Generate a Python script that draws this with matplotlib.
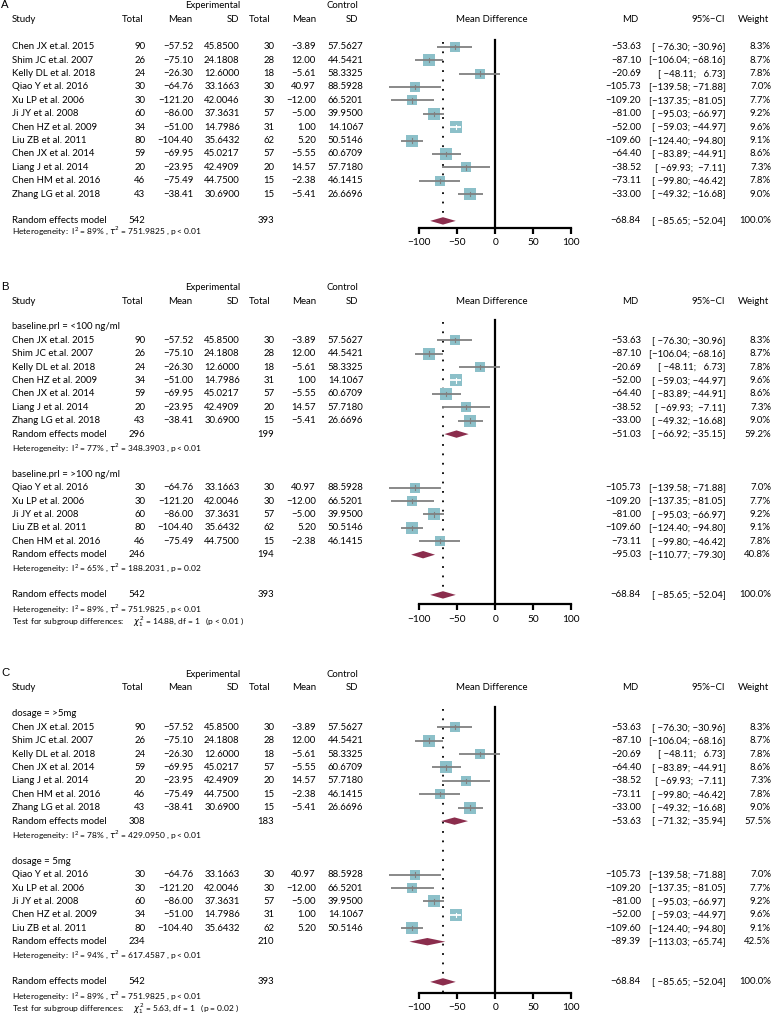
import matplotlib.pyplot as plt
from matplotlib.patches import Polygon

plt.rcParams['font.family'] = ['Lato', 'DejaVu Sans']
plt.rcParams['mathtext.fontset'] = 'dejavusans'

# study level data
studies = ["Chen JX et.al. 2015", "Shim JC et.al. 2007", "Kelly DL et al. 2018",
           "Qiao Y et al. 2016", "Xu LP et al. 2006", "Ji JY et al. 2008",
           "Chen HZ et al. 2009", "Liu ZB et al. 2011", "Chen JX et al. 2014",
           "Liang J et al. 2014", "Chen HM et al. 2016", "Zhang LG et al. 2018"]
exp_n = [90, 26, 24, 30, 30, 60, 34, 80, 59, 20, 46, 43]
exp_mean = [-57.52, -75.10, -26.30, -64.76, -121.20, -86.00, -51.00, -104.40, -69.95, -23.95, -75.49, -38.41]
exp_sd = [45.8500, 24.1808, 12.6000, 33.1663, 42.0046, 37.3631, 14.7986, 35.6432, 45.0217, 42.4909, 44.7500, 30.6900]
ctl_n = [30, 28, 18, 30, 30, 57, 31, 62, 57, 20, 15, 15]
ctl_mean = [-3.89, 12.00, -5.61, 40.97, -12.00, -5.00, 1.00, 5.20, -5.55, 14.57, -2.38, -5.41]
ctl_sd = [57.5627, 44.5421, 58.3325, 88.5928, 66.5201, 39.9500, 14.1067, 50.5146, 60.6709, 57.7180, 46.1415, 26.6696]
md = [-53.63, -87.10, -20.69, -105.73, -109.20, -81.00, -52.00, -109.60, -64.40, -38.52, -73.11, -33.00]
ci_lo = [-76.30, -106.04, -48.11, -139.58, -137.35, -95.03, -59.03, -124.40, -83.89, -69.93, -99.80, -49.32]
ci_hi = [-30.96, -68.16, 6.73, -71.88, -81.05, -66.97, -44.97, -94.80, -44.91, -7.11, -46.42, -16.68]
weight = [8.3, 8.7, 7.8, 7.0, 7.7, 9.2, 9.6, 9.1, 8.6, 7.3, 7.8, 9.0]

# pooled estimates: label -> (n exp, n ctl, MD, lo, hi, weight, I2, tau2, p)
pooled = {
    "all":    (542, 393, -68.84, -85.65, -52.04, 100.0, 89, 751.9825, "p < 0.01"),
    "prl_lo": (296, 199, -51.03, -66.92, -35.15, 59.2, 77, 348.3903, "p < 0.01"),
    "prl_hi": (246, 194, -95.03, -110.77, -79.30, 40.8, 65, 188.2031, "p = 0.02"),
    "dose_hi": (308, 183, -53.63, -71.32, -35.94, 57.5, 78, 429.0950, "p < 0.01"),
    "dose_5": (234, 210, -89.39, -113.03, -65.74, 42.5, 94, 617.4587, "p < 0.01"),
}
groups_B = [("baseline.prl = <100 ng/ml", [0, 1, 2, 6, 8, 9, 11], "prl_lo"),
            ("baseline.prl = >100 ng/ml", [3, 4, 5, 7, 10], "prl_hi")]
groups_C = [("dosage = >5mg", [0, 1, 2, 8, 9, 10, 11], "dose_hi"),
            ("dosage = 5mg", [3, 4, 5, 6, 7], "dose_5")]
test_B = ("14.88", "p < 0.01")
test_C = ("5.63", "p = 0.02")

W, H = 774, 1016
ROW = 13.4
FS = 6.9
FS_SMALL = 6.0
SQ_COL = "#8cc0c9"
DIA_COL = "#8b2d4d"
CI_COL = "#808080"
X0_PX, K = 495.3, 0.76  # pixel of MD=0, pixels per MD unit

fig = plt.figure(figsize=(W / 100, H / 100), dpi=100)
tx = fig.add_axes([0, 0, 1, 1])
tx.set_xlim(0, W)
tx.set_ylim(H, 0)
tx.axis('off')


def m(v):
    return f"{v:.2f}".replace("-", "\u2212")


def ci_str(lo, hi):
    a = m(lo).rjust(7)
    b = m(hi).rjust(6)
    return f"[{a}; {b}]"


def t(x, y, s, ha='right', fs=FS, **kw):
    tx.text(x, y, s, ha=ha, va='center', fontsize=fs, **kw)


def right_cols(y, d, lo, hi, w):
    t(641, y, m(d))
    t(725.7, y, ci_str(lo, hi))
    t(771, y, f"{w:.1f}%")


def het_text(key):
    _, _, _, _, _, _, i2, tau2, p = pooled[key]
    return (r"Heterogeneity:  $\mathregular{I^2}$ = " + f"{i2}% , " + r"$\tau^2$" +
            f" = {tau2:.4f} , {p}")


def draw_panel(letter, top, rows, axis_y):
    # headers
    tx.text(1, top, letter, ha='left', va='center', fontsize=8.2, family='Liberation Sans')
    t(240, top + 1, "Experimental")
    t(358.3, top + 1, "Control")
    hy = top + 14.5
    t(11.7, hy, "Study", ha='left')
    for x, s in [(143, "Total"), (192.7, "Mean"), (239.7, "SD"), (270, "Total"),
                 (316.7, "Mean"), (358.3, "SD"), (638.7, "MD"), (725, "95%\u2212CI"),
                 (769, "Weight")]:
        t(x, hy, s)
    t(491.3, hy, "Mean Difference", ha='center')

    y_first = rows[0][2]
    ax = fig.add_axes([380 / W, 1 - axis_y / H, (612 - 380) / W, (axis_y - y_first + 12) / H])
    ax.set_xlim((380 - X0_PX) / K, (612 - X0_PX) / K)
    ax.set_ylim(axis_y, y_first - 12)
    ax.patch.set_visible(False)
    for s in ['top', 'left', 'right']:
        ax.spines[s].set_visible(False)
    ax.spines['bottom'].set_bounds(-100, 100)
    ax.spines['bottom'].set_linewidth(1.6)
    ax.set_yticks([])
    ax.set_xticks([-100, -50, 0, 50, 100])
    ax.tick_params(axis='x', length=4.5, width=1.6, pad=3, labelsize=FS + 0.4)
    ax.plot([0, 0], [y_first - 7, axis_y], color='black', lw=1.6, clip_on=False)
    ax.plot([pooled["all"][2]] * 2, [y_first - 5, axis_y], color='black', lw=1.3,
            ls=(0, (1, 4.2)), clip_on=False)

    for kind, val, y in rows:
        if kind == 'study':
            i = val
            t(11.7, y, studies[i], ha='left')
            t(145.5, y, str(exp_n[i]))
            t(193.3, y, m(exp_mean[i]))
            t(239.7, y, f"{exp_sd[i]:.4f}")
            t(274.3, y, str(ctl_n[i]))
            t(316, y, m(ctl_mean[i]))
            t(363.3, y, f"{ctl_sd[i]:.4f}")
            right_cols(y, md[i], ci_lo[i], ci_hi[i], weight[i])
            side = 3.8 * weight[i] ** 0.5
            ax.scatter([md[i]], [y], marker='s', s=(side * 0.72) ** 2, color=SQ_COL,
                       linewidths=0, zorder=2, clip_on=False)
            inside = (ci_hi[i] - ci_lo[i]) * K < side
            lc = 'white' if inside else CI_COL
            ax.plot([ci_lo[i], ci_hi[i]], [y, y], color=lc, lw=1.3, zorder=3,
                    solid_capstyle='butt', clip_on=False)
            ax.plot([md[i], md[i]], [y - 2.2, y + 2.2], color=lc, lw=0.8, zorder=3,
                    clip_on=False)
        elif kind == 'label':
            t(11.7, y, val, ha='left')
        elif kind == 'pool':
            ne, nc, d, lo, hi, w = pooled[val][:6]
            t(11.7, y, "Random effects model", ha='left')
            t(145.5, y, str(ne))
            t(274.3, y, str(nc))
            right_cols(y, d, lo, hi, w)
            hh = 3.7
            ax.add_patch(Polygon([(lo, y), (d, y - hh), (hi, y), (d, y + hh)],
                                 closed=True, color=DIA_COL, lw=0, zorder=4, clip_on=False))
        elif kind == 'het':
            t(11.7, y, het_text(val), ha='left', fs=FS_SMALL)
        elif kind == 'test':
            chi, p = val
            t(11.7, y, "Test for subgroup differences:     " + r"$\chi^2_1$" +
              f" = {chi}, df = 1   ({p} )", ha='left', fs=FS_SMALL)


def sub_rows(y, groups, test):
    rows = []
    for label, idx, key in groups:
        rows.append(('label', label, y)); y += ROW
        for i in idx:
            rows.append(('study', i, y)); y += ROW
        rows.append(('pool', key, y)); y += ROW
        rows.append(('het', key, y)); y += 2 * ROW
    rows.append(('pool', 'all', y)); y += ROW
    rows.append(('het', 'all', y)); y += ROW
    rows.append(('test', test, y))
    return rows


# panel A
rows_A = []
y = 46.7
for i in range(len(studies)):
    rows_A.append(('study', i, y))
    y += ROW
y += ROW
rows_A.append(('pool', 'all', y))
rows_A.append(('het', 'all', y + 9.4))
draw_panel("A", 5, rows_A, 227.7)

draw_panel("B", 286.7, sub_rows(326.9, groups_B, test_B), 604.3)
draw_panel("C", 673.5, sub_rows(713.9, groups_C, test_C), 992.7)

fig.savefig("out.png", dpi=100)
